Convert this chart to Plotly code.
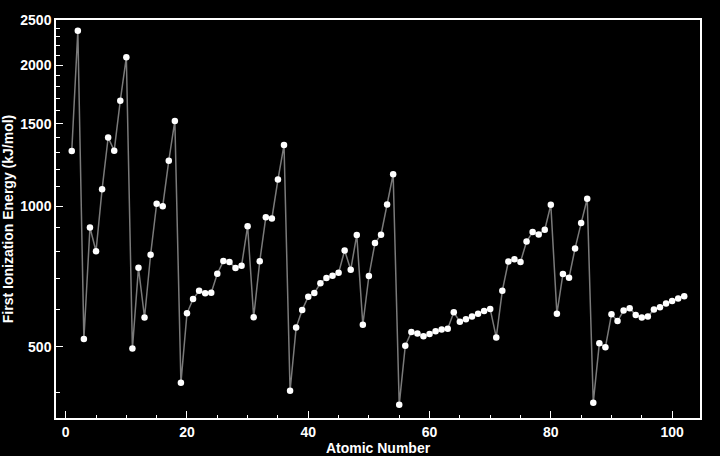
import plotly.graph_objects as go
import math

atomic_number = list(range(1, 103))
ionization_energy = [
    1312, 2372, 520, 900, 801, 1086, 1402, 1314, 1681, 2081,
    496, 738, 578, 787, 1012, 1000, 1251, 1521, 419, 590,
    633, 659, 651, 653, 717, 763, 760, 737, 746, 906,
    579, 762, 947, 941, 1140, 1351, 403, 550, 600, 640,
    652, 684, 702, 710, 720, 804, 731, 868, 558, 709,
    834, 869, 1008, 1170, 376, 503, 538, 534, 527, 533,
    540, 545, 547, 593, 566, 573, 581, 589, 597, 603,
    524, 659, 761, 770, 760, 840, 880, 870, 890, 1007,
    589, 716, 703, 812, 920, 1037, 380, 509, 499, 587,
    568, 598, 605, 585, 578, 581, 601, 608, 619, 627,
    635, 642,
]

x_ticks = [0, 20, 40, 60, 80, 100]
x_minor = [v for v in range(0, 105, 5) if v % 20 != 0]
y_ticks = [500, 1000, 1500, 2000, 2500]
y_minor = [v for v in range(400, 2500, 100) if v % 500 != 0]

font_family = "Liberation Sans, Arial, sans-serif"

fig = go.Figure(go.Scatter(
    x=atomic_number, y=ionization_energy, mode="lines+markers",
    line=dict(color="#7a7a7a", width=1.5),
    marker=dict(color="white", size=6.5, line=dict(width=0)),
))

axis_common = dict(
    showgrid=False, zeroline=False, showline=True, linecolor="white", linewidth=1.5,
    mirror=True, ticks="inside", tickcolor="white", tickwidth=1, ticklen=7,
    automargin=False,
    tickfont=dict(family=font_family, size=14, color="white", weight="bold"),
)

fig.update_layout(
    width=720, height=456,
    paper_bgcolor="black", plot_bgcolor="black",
    margin=dict(l=56, r=20, t=20, b=38),
    showlegend=False,
    xaxis=dict(
        range=[-1.6, 104.6], tickmode="array", tickvals=x_ticks,
        minor=dict(tickmode="array", tickvals=x_minor, ticks="inside", ticklen=3, tickcolor="white", showgrid=False),
        title=dict(text="Atomic Number", font=dict(family=font_family, size=14, color="white", weight="bold"), standoff=2),
        **axis_common,
    ),
    yaxis=dict(
        type="log", range=[math.log10(352.4), math.log10(2500)],
        tickmode="array", tickvals=y_ticks, ticktext=[str(v) for v in y_ticks],
        minor=dict(tickmode="array", tickvals=y_minor, ticks="inside", ticklen=4, tickcolor="white", showgrid=False),
        title=dict(text="First Ionization Energy (kJ/mol)", font=dict(family=font_family, size=14, color="white", weight="bold"), standoff=4),
        **axis_common,
    ),
)

fig.write_html("out.html")
